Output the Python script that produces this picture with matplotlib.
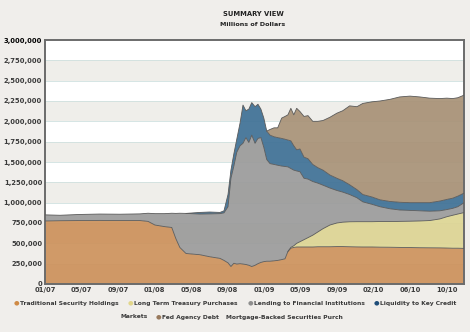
import numpy as np
import matplotlib
matplotlib.use("Agg")
import matplotlib.pyplot as plt
from matplotlib.ticker import FuncFormatter

# position along the (evenly spaced) date axis, in tick steps from 01/07
x = [0.00, 0.41, 0.96, 1.50, 2.05, 2.60, 2.82, 3.01, 3.28, 3.47, 3.58, 3.69,
     3.86, 4.24, 4.51, 4.79, 4.90, 5.01, 5.09, 5.17, 5.25, 5.34, 5.42, 5.50,
     5.58, 5.66, 5.75, 5.83, 5.91, 5.99, 6.07, 6.16, 6.27, 6.37, 6.48, 6.57,
     6.65, 6.73, 6.81, 6.89, 6.98, 7.09, 7.20, 7.33, 7.47, 7.61, 7.80, 7.99,
     8.15, 8.34, 8.54, 8.70, 8.95, 9.17, 9.44, 9.71, 9.99, 10.26, 10.53,
     10.81, 11.00, 11.16, 11.30, 11.46]

# millions of dollars, in thousands
traditional = [775, 778, 780, 782, 780, 780, 770, 725, 705, 695, 560, 450,
               375, 360, 335, 315, 290, 260, 215, 255, 245, 250, 245, 240,
               230, 215, 230, 250, 265, 275, 280, 280, 285, 290, 300, 310,
               400, 440, 450, 455, 455, 455, 455, 455, 458, 458, 458, 460,
               460, 458, 456, 455, 455, 453, 452, 450, 448, 446, 445,
               444, 442, 440, 440, 438]
treasury = [0, 0, 0, 0, 0, 0, 0, 0, 0, 0, 0, 0,
            0, 0, 0, 0, 0, 0, 0, 0, 0, 0, 0, 0,
            0, 0, 0, 0, 0, 0, 0, 0, 0, 0, 0, 0,
            0, 10, 20, 45, 65, 90, 115, 145, 182, 222, 267, 290,
            300, 307, 310, 311, 311, 315, 316, 320, 324, 329, 335,
            356, 385, 405, 420, 439]
lending = [75, 67, 75, 78, 78, 82, 100, 140, 160, 175, 308, 420,
           493, 500, 527, 550, 585, 690, 1085, 1195, 1375, 1450, 1485, 1560,
           1510, 1615, 1500, 1540, 1535, 1405, 1250, 1200, 1185, 1170, 1150, 1135,
           1040, 970, 930, 890, 860, 755, 720, 660, 600, 535, 455, 400,
           370, 335, 294, 244, 214, 182, 157, 140, 133, 125, 115,
           100, 88, 85, 90, 119]
liquidity = [0, 0, 0, 0, 0, 0, 0, 0, 0, 0, 0, 0,
             0, 20, 23, 15, 25, 150, 100, 150, 160, 280, 470, 330,
             410, 400, 450, 420, 350, 360, 350, 350, 340, 340, 340, 335,
             330, 340, 300, 260, 280, 260, 250, 210, 190, 185, 160, 150,
             140, 120, 100, 90, 90, 85, 90, 95, 95, 100, 105,
             120, 125, 125, 130, 119]
agency_mbs = [0, 0, 0, 0, 0, 0, 0, 0, 0, 0, 0, 0,
              0, 0, 0, 0, 0, 0, 0, 0, 0, 0, 0, 0,
              0, 0, 0, 0, 0, 0, 0, 70, 110, 120, 250, 280,
              310, 400, 380, 510, 460, 500, 530, 530, 570, 610, 710, 800,
              860, 970, 1020, 1120, 1170, 1215, 1255, 1295, 1310, 1300, 1285,
              1260, 1245, 1225, 1210, 1205]

tick_labels = ["01/07", "05/07", "09/07", "01/08", "05/08", "09/08", "01/09",
               "05/09", "09/09", "02/10", "06/10", "10/10"]
legend_names = ["Traditional Security Holdings", "Long Term Treasury Purchases",
                "Lending to Financial Institutions", "Liquidity to Key Credit Markets",
                "Fed Agency Debt", "Mortgage-Backed Securities Purch"]

fills = ["#cd925c", "#ddd594", "#9b9b9b", "#3f7196", "#a89277"]
dots = ["#cf8a45", "#e2d68a", "#8e8e8e", "#1f4d78", "#98795c"]
BG = "#f0eeeb"
INK = "#3a3a3a"

plt.rcParams["font.family"] = "DejaVu Sans"
fig = plt.figure(figsize=(4.7, 3.32), dpi=100, facecolor=BG)
ax = fig.add_axes([45 / 470, 48 / 332, 419 / 470, 244 / 332])
ax.set_facecolor("white")

# striped background + faint gridlines
for lo in np.arange(0, 3000, 500):
    ax.axhspan(lo * 1000, (lo + 250) * 1000, color="#efeeea", lw=0, zorder=0)
for g in np.arange(250, 3000, 250):
    ax.axhline(g * 1000, color="#cfe0df", lw=0.6, zorder=0.5)

xs = np.array(x)
layers = np.array([traditional, treasury, lending, liquidity, agency_mbs]) * 1000.0
ax.stackplot(xs, layers, colors=fills, alpha=0.93, lw=0, zorder=2)
tops = np.cumsum(layers, axis=0)
for row, top in enumerate(tops):
    show = layers[row] > 0
    seg = np.where(show | np.roll(show, 1) | np.roll(show, -1), top, np.nan)
    ax.plot(xs, seg, color="#5a5a5a", lw=0.6, zorder=3)

ax.set_xlim(0, 11.47)
ax.set_ylim(0, 3_000_000)
ax.set_xticks(range(len(tick_labels)))
ax.set_xticklabels(tick_labels)
ax.set_yticks(np.arange(0, 3_000_001, 250_000))
ax.yaxis.set_major_formatter(FuncFormatter(lambda v, _: f"{int(v):,}"))
ax.tick_params(length=0, pad=2, labelsize=4.9, labelcolor=INK)
for lab in ax.get_xticklabels() + ax.get_yticklabels():
    lab.set_fontweight("bold")
ax.get_yticklabels()[-1].set_color("black")
for s in ax.spines.values():
    s.set_color("#6b6b6b")
    s.set_linewidth(1.4)

fig.text(253 / 470, 1 - 14 / 332, "SUMMARY VIEW", ha="center", va="center",
         fontsize=4.9, fontweight="bold", color="#222222")
fig.text(253 / 470, 1 - 24 / 332, "Millions of Dollars", ha="center", va="center",
         fontsize=4.6, fontweight="bold", color="#222222")

# wrapped legend, laid out like the original
rows = [(303, [(16, 0, legend_names[0]), (130, 1, legend_names[1]),
               (250, 2, legend_names[2]), (376, 3, "Liquidity to Key Credit")]),
        (317, [(121, None, "Markets"), (158, 4, legend_names[4]),
               (226, None, legend_names[5])])]
for ypx, items in rows:
    for xpx, ci, name in items:
        tx = xpx
        if ci is not None:
            fig.text(xpx / 470, 1 - ypx / 332, "\u25cf", color=dots[ci], fontsize=4.6,
                     ha="center", va="center")
            tx = xpx + 4
        fig.text(tx / 470, 1 - ypx / 332, name, color=INK, fontsize=4.3,
                 fontweight="bold", ha="left", va="center")

fig.savefig("out.png", dpi=100, facecolor=BG)
